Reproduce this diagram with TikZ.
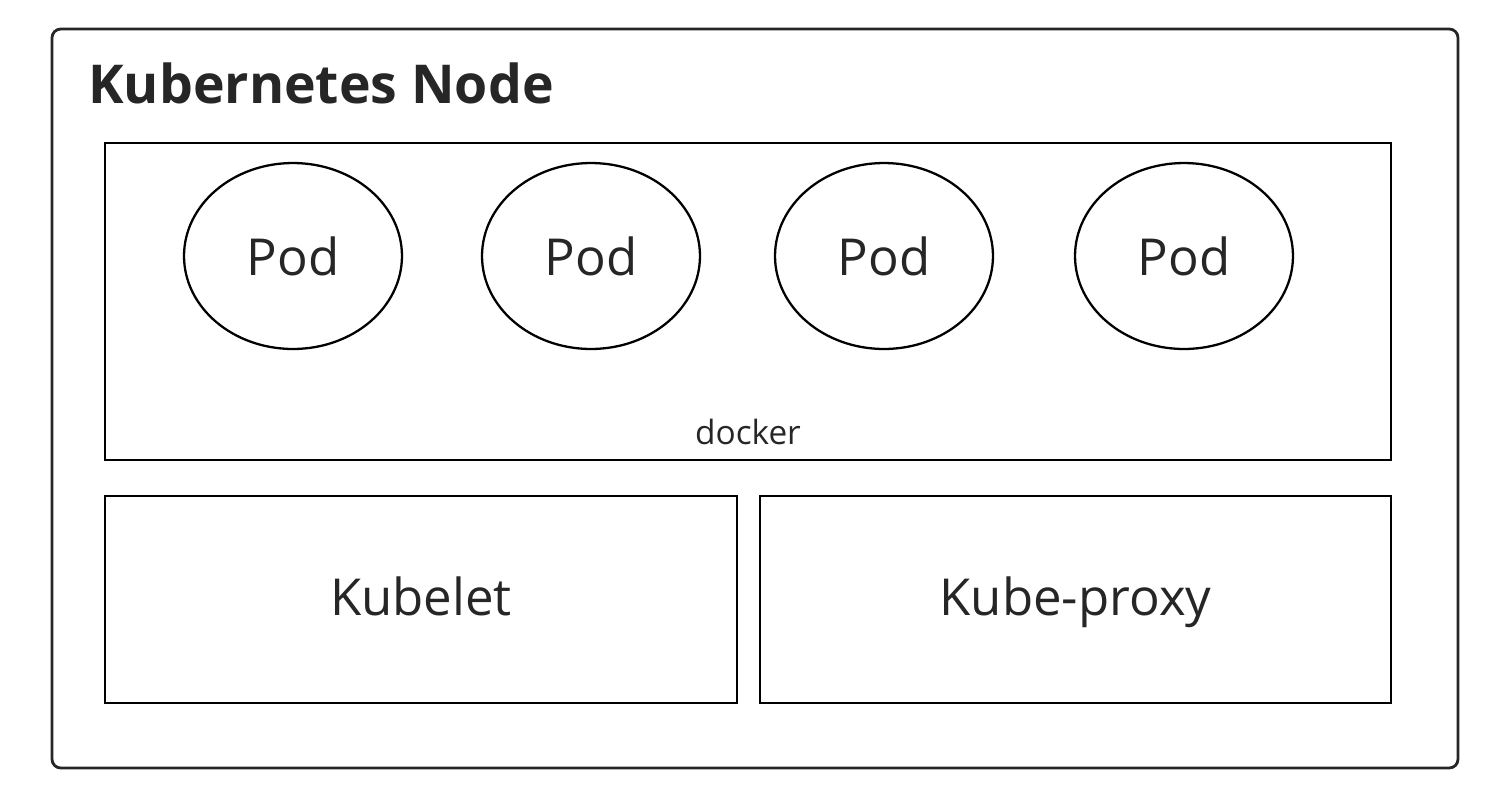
\documentclass[tikz,border=0pt]{standalone}
\usepackage{fontspec}
\setmainfont{Open Sans}
\usetikzlibrary{shapes,positioning}

\begin{document}
\begin{tikzpicture}[x=0.02cm,y=-0.02cm,
    boite/.style={draw,line width=1.5pt,inner sep=0pt,text=black!85,text height=18pt,text depth=0pt},
    pod/.style={ellipse,draw,line width=1.3pt,inner sep=0pt,minimum width=4.36cm,minimum height=3.72cm,font=\fontsize{29}{31}\selectfont,text=black!85}]
\useasboundingbox (0,0) rectangle (1489,789);
\draw[rounded corners=5pt,line width=1.6pt,black!85](52,29)rectangle(1458,768);
\node[anchor=base west,inner sep=0pt,font=\fontsize{30.5}{32}\selectfont\bfseries,text=black!85] (titre) at (88,103) {Kubernetes Node};
\node[boite,minimum width=25.72cm,minimum height=6.34cm] (docker) at (748,301.5) {};
\node[font=\fontsize{19}{21}\selectfont,text=black!85] (ldocker) at (748,432) {docker};
\foreach \k/\x in {1/293,2/591,3/884,4/1184}
    \node[pod] (pod\k) at (\x,256) {Pod};
\node[boite,minimum width=12.64cm,minimum height=4.14cm,font=\fontsize{29}{31}\selectfont] (kubelet) at (421,599.5) {Kubelet};
\node[boite,minimum width=12.62cm,minimum height=4.14cm,font=\fontsize{29}{31}\selectfont] (proxy) at (1075.5,599.5) {Kube-proxy};
\end{tikzpicture}
\end{document}
